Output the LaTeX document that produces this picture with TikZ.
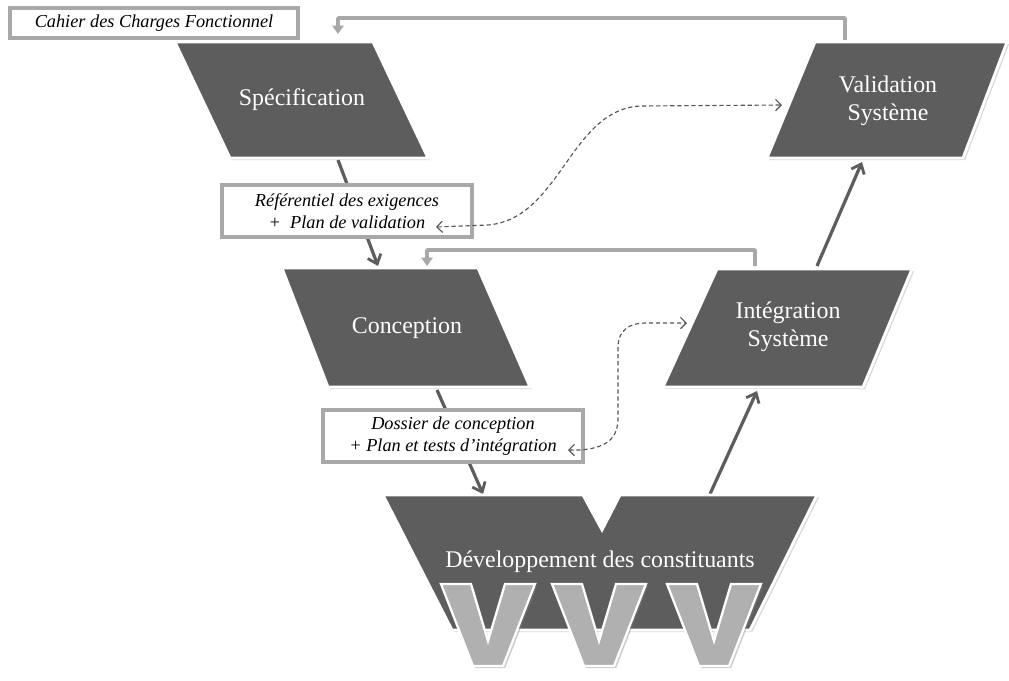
\documentclass[tikz,border=0pt]{standalone}
\usepackage{fontspec}
\setmainfont{Liberation Serif}
\usetikzlibrary{shadows,arrows.meta}
\definecolor{bloc}{RGB}{93,93,93}
\definecolor{retour}{RGB}{168,168,168}
\definecolor{lettreV}{RGB}{176,176,176}
\tikzset{
  etape/.style={fill=bloc, draw=white, line width=2pt, line join=miter,
    drop shadow={opacity=0.3, shadow xshift=1.5pt, shadow yshift=-1.5pt}},
  lettre/.style={fill=lettreV, draw=white, line width=1.6pt,
    drop shadow={opacity=0.4, shadow xshift=1.5pt, shadow yshift=-1.5pt}},
  titre/.style={text=white, font=\fontsize{17}{20}\selectfont, align=center},
  doc/.style={draw=retour, line width=2.2pt, fill=white, align=center, inner sep=1pt,
    font=\itshape\fontsize{13}{16}\selectfont},
  flux/.style={draw=bloc, line width=2.3pt, -{Straight Barb[length=6pt,width=10pt,line width=2pt]}},
  ret/.style={draw=retour, line width=2.5pt, rounded corners=0.5pt,
    -{Triangle[length=6pt,width=8pt]}},
  pointille/.style={draw=bloc!90!black, line width=0.8pt, dash pattern=on 3pt off 2pt,
    {Straight Barb[length=4pt,width=8pt]}-{Straight Barb[length=4pt,width=8pt]}}
}
\begin{document}
\begin{tikzpicture}[x=0.025cm,y=-0.025cm]
  \useasboundingbox (0,0) rectangle (1009,680);
  % points d'accroche
  \coordinate (spec-haut) at (338,40);
  \coordinate (spec-bas) at (338,160);
  \coordinate (concep-haut) at (378,266);
  \coordinate (concep-bas) at (437,390);
  \coordinate (dev-haut-g) at (483,494);
  \coordinate (dev-haut-d) at (710,494);
  \coordinate (integ-bas) at (757,391);
  \coordinate (integ-haut) at (817,266);
  \coordinate (valid-bas) at (862,162);
  \coordinate (valid-haut) at (845,40);
  \coordinate (valid-g) at (782,105);
  \coordinate (integ-g) at (687,323);
  \coordinate (integ-sommet) at (755,266);
  \coordinate (concep-sommet) at (427,266);
  % flux descendants et montants
  \draw[flux] (spec-bas) -- (concep-haut);
  \draw[flux] (concep-bas) -- (dev-haut-g);
  \draw[flux] (dev-haut-d) -- (integ-bas);
  \draw[flux] (integ-haut) -- (valid-bas);
  % retours
  \draw[ret] (valid-haut) -- (845,18) -- (338,18) -- (338,34);
  \draw[ret] (integ-sommet) -- (755,250) -- (427,250) -- (concep-sommet);
  % blocs du cycle en V
  \filldraw[etape] (175,42) -- (373,42) -- (428,158) -- (230,158) -- cycle;
  \filldraw[etape] (815,42) -- (1007,42) -- (963,158) -- (767,158) -- cycle;
  \filldraw[etape] (282,268) -- (478,268) -- (530,387) -- (328,387) -- cycle;
  \filldraw[etape] (717,269) -- (912,269) -- (863,387) -- (663,387) -- cycle;
  \filldraw[etape] (383,495) -- (583,495) -- (602,530) -- (620,495) -- (817,495)
    -- (750,630) -- (452,630) -- cycle;
  % les trois V
  \foreach \cx in {488,599,714}
    \filldraw[lettre] (\cx-47,584) -- (\cx-17,584) -- (\cx,641) -- (\cx+17,584)
      -- (\cx+47,584) -- (\cx+15,666) -- (\cx-15,666) -- cycle;
  % textes des blocs
  \node[titre] (spec) at (302,100) {Spécification};
  \node[titre] (valid) at (888,101) {Validation\\Système};
  \node[titre] (concep) at (407,328) {Conception};
  \node[titre] (integ) at (788,327) {Intégration\\Système};
  \node[titre] (dev) at (600,562) {Développement des constituants};
  % documents
  \node[doc, minimum width=7.2cm, minimum height=0.75cm] (cdc) at (154,23)
    {Cahier des Charges Fonctionnel};
  \node[doc, minimum width=6.25cm, minimum height=1.3cm] (ref) at (347,211)
    {Référentiel des exigences\\+\ \ Plan de validation\hspace{1.2em}};
  \node[doc, minimum width=6.5cm, minimum height=1.3cm] (dossier) at (453,436)
    {Dossier de conception\\+ Plan et tests d’intégration\hspace{0.6em}};
  % liens en pointillés
  \coordinate (ref-d) at (436,227);
  \coordinate (dossier-d) at (568,450);
  \draw[pointille] (ref-d) -- (488,225) .. controls (560,219) and (570,110) .. (640,106)
    -- (valid-g);
  \draw[pointille] (dossier-d) -- (580,450) .. controls (605,448) and (617,440) .. (618,420)
    -- (618,345) .. controls (619,330) and (630,323) .. (645,323) -- (integ-g);
\end{tikzpicture}
\end{document}
